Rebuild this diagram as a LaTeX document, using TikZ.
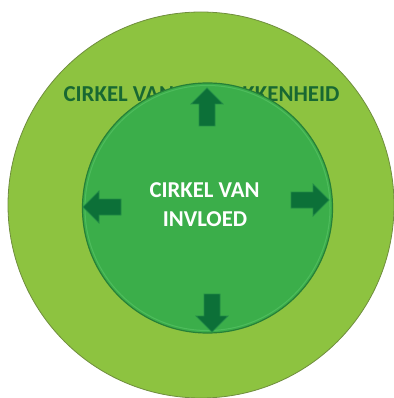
\documentclass[tikz,border=0pt]{standalone}
\usepackage{fontspec}
\setmainfont{Carlito}
\definecolor{outerfill}{RGB}{141,195,64}
\definecolor{outerline}{RGB}{112,142,62}
\definecolor{innerfill}{RGB}{59,174,74}
\definecolor{innerline}{RGB}{38,128,56}
\definecolor{innerhi}{RGB}{78,188,92}
\definecolor{arrowfill}{RGB}{12,112,56}
\definecolor{arrowline}{RGB}{34,140,70}
\definecolor{outertext}{RGB}{24,104,50}
\tikzset{
  outercircle/.style={circle, fill=outerfill, draw=outerline, line width=0.8pt, minimum size=386pt, inner sep=0pt},
  innercircle/.style={circle, fill=innerfill, draw=innerline, line width=1.2pt, minimum size=250pt, inner sep=0pt},
  outerlabel/.style={anchor=base, text=outertext, font=\fontsize{22.8}{27}\selectfont\bfseries, inner sep=0pt},
  innerlabel/.style={anchor=base, text=white, font=\fontsize{22.7}{27}\selectfont\bfseries, inner sep=0pt},
  pics/fatarrow/.style={code={
    \draw[fill=arrowfill, draw=arrowline, line width=0.8pt, line join=miter]
      (0,0) -- (-16,16) -- (-16,8) -- (-38,8) -- (-38,-8) -- (-16,-8) -- (-16,-16) -- cycle;
  }}
}
\begin{document}
\begin{tikzpicture}[x=1pt,y=-1pt]
\useasboundingbox (0,0) rectangle (393,398);
\node[outercircle] (outer) at (201,205) {};
\node[outerlabel] (concern) at (201.5,102) {CIRKEL VAN BETROKKENHEID};
\node[innercircle] (inner) at (207.5,208) {};
\draw[innerhi, line width=1pt] (inner.center) circle[radius=122.5];
\node[innerlabel] (l1) at (204.5,197) {CIRKEL VAN};
\node[innerlabel] (l2) at (205,226) {INVLOED};
\pic[rotate=90] at (207,88) {fatarrow};
\pic[rotate=-90] at (212,332) {fatarrow};
\pic[rotate=180] at (83,207) {fatarrow};
\pic at (329,200) {fatarrow};
\end{tikzpicture}
\end{document}
